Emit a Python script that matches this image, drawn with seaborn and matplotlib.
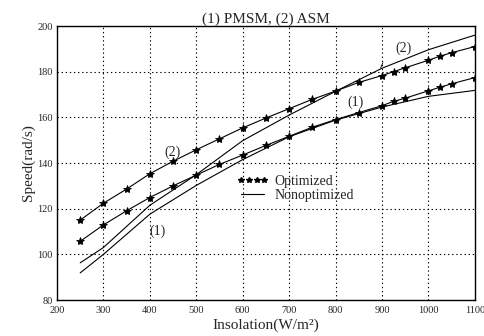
import matplotlib
matplotlib.use("Agg")
import matplotlib.pyplot as plt
from matplotlib.lines import Line2D
import seaborn as sns
import pandas as pd

# Optimized speed curves (markers)
opt_x = [250, 300, 350, 400, 450, 500, 550, 600, 650, 700, 750, 800, 850,
         900, 925, 950, 1000, 1025, 1050, 1100]
opt_asm = [115.0, 122.4, 128.6, 135.3, 140.8, 145.8, 150.6, 155.4, 159.7, 163.8,
           167.9, 171.5, 175.3, 178.3, 180.0, 181.7, 185.0, 186.8, 188.3, 191.0]
opt_pmsm = [105.7, 112.9, 119.1, 124.9, 130.0, 134.7, 139.4, 143.5, 147.7, 151.7,
            155.7, 159.0, 162.1, 165.1, 167.0, 168.4, 171.6, 173.2, 174.7, 177.4]

# Nonoptimized speed curves (plain lines)
non_x = [250, 300, 400, 500, 600, 700, 800, 900, 1000, 1100]
non_asm = [96.3, 103.0, 121.5, 134.9, 149.8, 161.0, 171.4, 181.5, 189.6, 196.0]
non_pmsm = [91.9, 100.0, 117.6, 130.2, 141.5, 151.5, 158.8, 164.5, 169.2, 171.8]

x_ticks = [200, 300, 400, 500, 600, 700, 800, 900, 1000, 1100]
y_ticks = [80, 100, 120, 140, 160, 180, 200]

sns.set_theme(style="white")
plt.rcParams["font.family"] = ["Liberation Serif", "DejaVu Serif"]

fig = plt.figure(figsize=(4.85, 3.36), dpi=100)
ax = fig.add_axes([0.1175, 0.107, 0.8615, 0.8156])

opt_df = pd.DataFrame({"x": opt_x, "asm": opt_asm, "pmsm": opt_pmsm})
non_df = pd.DataFrame({"x": non_x, "asm": non_asm, "pmsm": non_pmsm})

for col in ["asm", "pmsm"]:
    sns.lineplot(data=opt_df, x="x", y=col, ax=ax, color="black", lw=0.8,
                 marker="*", markersize=6, markeredgewidth=0.6,
                 markerfacecolor="black", markeredgecolor="black")
    sns.lineplot(data=non_df, x="x", y=col, ax=ax, color="black", lw=0.8)

ax.set_xlim(200, 1100)
ax.set_ylim(80, 200)
ax.set_xticks(x_ticks)
ax.set_yticks(y_ticks)
ax.set_xticklabels([str(v) for v in x_ticks], fontsize=7.5)
ax.set_yticklabels([str(v) for v in y_ticks], fontsize=7.5)
ax.tick_params(direction="in", length=3, color="black")
ax.tick_params(axis="x", pad=4)
ax.tick_params(axis="y", pad=3)
ax.grid(True, color="black", linestyle=(0, (1.2, 2.5)), linewidth=0.8)
for s in ax.spines.values():
    s.set_color("black")
    s.set_linewidth(1.0)

ax.set_title("(1) PMSM, (2) ASM", fontsize=11, pad=2)
ax.set_xlabel("Insolation(W/m²)", fontsize=11, labelpad=3)
ax.set_ylabel("Speed(rad/s)", fontsize=11, labelpad=2)

# curve labels
ax.text(947, 190.3, "(2)", fontsize=10, ha="center", va="center")
ax.text(844, 166.6, "(1)", fontsize=10, ha="center", va="center")
ax.text(448, 144.6, "(2)", fontsize=10, ha="center", va="center")
ax.text(416, 110.0, "(1)", fontsize=10, ha="center", va="center")
ax.plot([902, 897], [184.0, 181.6], color="black", lw=0.6)

handles = [Line2D([], [], color="black", ls="none", marker="*", markersize=4),
           Line2D([], [], color="black", lw=0.8)]
ax.legend(handles, ["Optimized", "Nonoptimized"], numpoints=4, frameon=False,
          loc="upper left", bbox_to_anchor=(0.43, 0.455), fontsize=10,
          handlelength=2.3, handletextpad=0.4, labelspacing=0.05,
          borderpad=0.0, borderaxespad=0.0)

fig.savefig("out.png", dpi=100)
